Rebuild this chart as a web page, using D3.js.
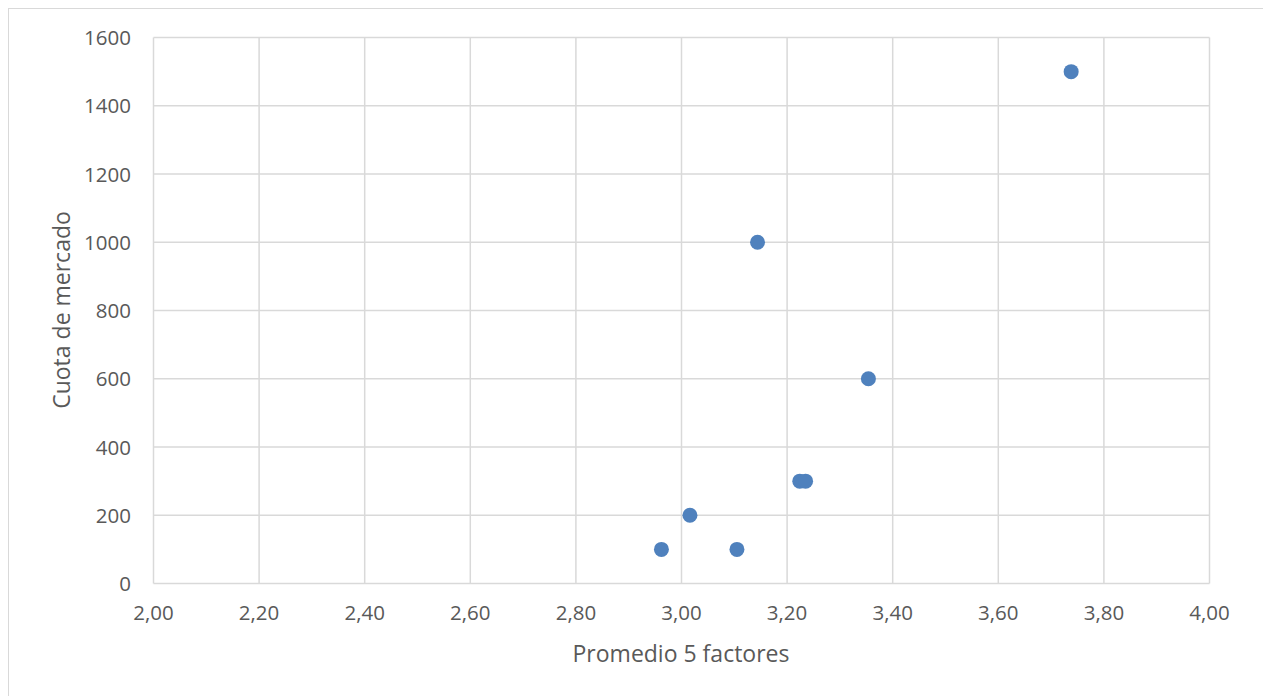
<!DOCTYPE html>
<meta charset="utf-8">
<script src="https://d3js.org/d3.v7.min.js"></script>
<style>
body { margin: 0; background: #fff; }
text { font-family: "Open Sans", Calibri, sans-serif; fill: #595959; }
</style>
<body>
</body>
<script>

// promedio de los 5 factores vs cuota de mercado
var promedio = [2.962, 3.016, 3.105, 3.144, 3.224, 3.235, 3.354, 3.738];
var cuota = [100, 200, 100, 1000, 300, 300, 600, 1500];

var xTicks = [2.0, 2.2, 2.4, 2.6, 2.8, 3.0, 3.2, 3.4, 3.6, 3.8, 4.0];
var yTicks = [0, 200, 400, 600, 800, 1000, 1200, 1400, 1600];

var width = 1263, height = 696;
var plotL = 153.5, plotR = 1209.5, plotT = 37.5, plotB = 583.5;

var svg = d3.select("body").append("svg")
  .attr("width", width)
  .attr("height", height);

// chart frame
svg.append("rect")
  .attr("x", 8.5).attr("y", 8.5)
  .attr("width", 1300).attr("height", 800)
  .attr("fill", "#fff")
  .attr("stroke", "#d9d9d9");

var x = d3.scaleLinear().domain([2, 4]).range([plotL, plotR]);
var y = d3.scaleLinear().domain([0, 1600]).range([plotB, plotT]);

var fmt = function(d) { return d3.format(".2f")(d).replace(".", ","); };

// gridlines
svg.append("g").selectAll("line")
  .data(xTicks).enter().append("line")
  .attr("x1", function(d) { return x(d); })
  .attr("x2", function(d) { return x(d); })
  .attr("y1", plotT).attr("y2", plotB)
  .attr("stroke", "#d9d9d9").attr("stroke-width", 1.5);

svg.append("g").selectAll("line")
  .data(yTicks).enter().append("line")
  .attr("x1", plotL).attr("x2", plotR)
  .attr("y1", function(d) { return y(d); })
  .attr("y2", function(d) { return y(d); })
  .attr("stroke", "#d9d9d9").attr("stroke-width", 1.5);

// tick labels
svg.append("g").selectAll("text")
  .data(xTicks).enter().append("text")
  .attr("x", function(d) { return x(d); })
  .attr("y", 620)
  .attr("text-anchor", "middle")
  .style("font-size", "20.5px")
  .text(fmt);

svg.append("g").selectAll("text")
  .data(yTicks).enter().append("text")
  .attr("x", 131)
  .attr("y", function(d) { return y(d) + 7.5; })
  .attr("text-anchor", "end")
  .style("font-size", "20.5px")
  .text(function(d) { return d; });

// axis titles
svg.append("text")
  .attr("x", 681).attr("y", 662)
  .attr("text-anchor", "middle")
  .style("font-size", "23px")
  .text("Promedio 5 factores");

svg.append("text")
  .attr("transform", "translate(70,310) rotate(-90)")
  .attr("text-anchor", "middle")
  .style("font-size", "23px")
  .text("Cuota de mercado");

// points
svg.append("g").selectAll("circle")
  .data(promedio).enter().append("circle")
  .attr("cx", function(d) { return x(d); })
  .attr("cy", function(d, i) { return y(cuota[i]); })
  .attr("r", 7.5)
  .attr("fill", "#4f81bd");

</script>
